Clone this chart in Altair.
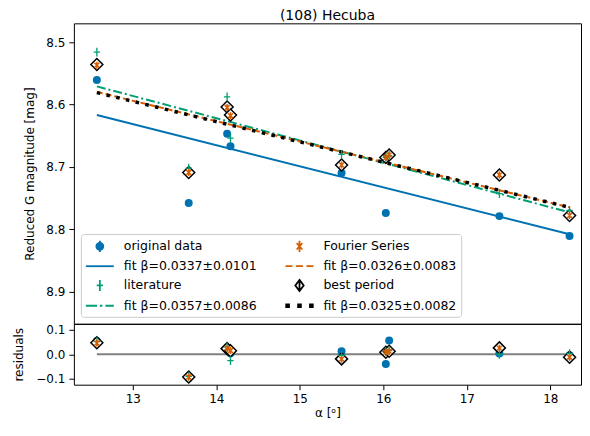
import altair as alt
import pandas as pd

# ---- data ----
alpha = [12.57, 13.67, 14.13, 14.17, 15.50, 16.03, 16.07, 17.39, 18.23]

mag_orig = [8.561, 8.758, 8.647, 8.667, 8.710, 8.774, 8.681, 8.779, 8.811]
mag_lit = [8.516, 8.702, 8.588, 8.654, 8.680, 8.685, 8.682, 8.743, 8.770]
mag_four = [8.537, 8.709, 8.605, 8.618, 8.697, 8.685, 8.681, 8.713, 8.778]
mag_best = [8.536, 8.709, 8.604, 8.617, 8.697, 8.685, 8.681, 8.713, 8.778]

res_orig = [0.054, -0.098, 0.022, 0.004, 0.012, -0.040, 0.056, 0.003, -0.004]
res_lit = [0.052, -0.090, 0.030, -0.026, -0.004, 0.010, 0.015, 0.000, 0.003]
res_four = [0.046, -0.093, 0.024, 0.015, -0.020, 0.008, 0.012, 0.025, -0.012]
res_best = [0.047, -0.093, 0.023, 0.014, -0.019, 0.008, 0.012, 0.026, -0.012]

fit_alpha = [12.57, 18.23]
fit_orig = [8.617, 8.808]
fit_lit = [8.571, 8.773]
fit_four = [8.580, 8.765]
fit_best = [8.581, 8.765]
zero_line = [0.0, 0.0]

# column-major order (two columns of four rows)
legend_labels = [
    "original data", "fit β=0.0337±0.0101",
    "literature", "fit β=0.0357±0.0086",
    "Fourier Series", "fit β=0.0326±0.0083",
    "best period", "fit β=0.0325±0.0082",
]

title_text = "(108) Hecuba"
y_ticks = [8.5, 8.6, 8.7, 8.8, 8.9]
r_ticks = [-0.1, 0.0, 0.1]
x_ticks = [13, 14, 15, 16, 17, 18]

# ---- styles ----
BLUE = "#0072B2"
ORANGE = "#D55E00"
GREEN = "#009E73"
FONT = "DejaVu Sans"

leg_fill = [BLUE, "transparent", "transparent", "transparent",
            "transparent", "transparent", "white", "black"]
leg_stroke = [BLUE, BLUE, GREEN, GREEN, ORANGE, ORANGE, "black", "black"]
leg_shape = [
    "M0.5,0A0.5,0.5,0,1,1,1.5,0A0.5,0.5,0,1,1,0.5,0ZM1,-0.8V0.8",
    "M-1,0H3",
    "M0.55,0H1.45M1,-0.8V0.8",
    "M-1,0H0.6M1,0H1.35M1.8,0H3",
    "M0.6,-0.45L1.4,0.45M0.6,0.45L1.4,-0.45M1,-0.8V0.8",
    "M-1,0H0M0.5,0H1.5M2,0H3",
    "M1,-0.8L1.6,0L1,0.8L0.4,0ZM1,-0.8V0.8",
    "M-0.9,-0.2h0.4v0.4h-0.4ZM0.8,-0.2h0.4v0.4h-0.4ZM2.5,-0.2h0.4v0.4h-0.4Z",
]

n = len(alpha)
pts = pd.DataFrame({
    "alpha": alpha * 4,
    "mag": mag_orig + mag_lit + mag_four + mag_best,
    "res": res_orig + res_lit + res_four + res_best,
    "series": ["orig"] * n + ["lit"] * n + ["four"] * n + ["best"] * n,
})
fits = pd.DataFrame({
    "alpha": fit_alpha * 4,
    "mag": fit_orig + fit_lit + fit_four + fit_best,
    "series": ["orig"] * 2 + ["lit"] * 2 + ["four"] * 2 + ["best"] * 2,
})
zero_df = pd.DataFrame({"alpha": fit_alpha, "res": zero_line})
leg_df = pd.DataFrame({"entry": legend_labels})

PW = 508
MH = 301
RH = 61

xs = alt.Scale(domain=[12.295, 18.367], nice=False, zero=False)
ys = alt.Scale(domain=[8.470, 8.9516], reverse=True, nice=False, zero=False)
rs = alt.Scale(domain=[-0.1245, 0.1245], nice=False, zero=False)

X_main = alt.X("alpha:Q", scale=xs, axis=None)
Y_main = alt.Y("mag:Q", scale=ys, axis=alt.Axis(
    values=y_ticks, format=".1f", title="Reduced G magnitude [mag]", titlePadding=9))
X_res = alt.X("alpha:Q", scale=xs, axis=alt.Axis(
    values=x_ticks, format="d", title="α [ᵒ]", titlePadding=3))
Y_res = alt.Y("res:Q", scale=rs, axis=alt.Axis(
    values=r_ticks, format=".1f", title="residuals", titlePadding=10))


def fit_layer(series, color, width, dash=None):
    kw = dict(color=color, strokeWidth=width)
    if dash is not None:
        kw["strokeDash"] = dash
    return (alt.Chart(fits).transform_filter(alt.datum.series == series)
            .mark_line(**kw).encode(x=X_main, y=Y_main))


def marker_layers(x_enc, y_enc):
    blue = (alt.Chart(pts).transform_filter(alt.datum.series == "orig")
            .mark_circle(size=64, color=BLUE, opacity=1).encode(x=x_enc, y=y_enc))
    diam = (alt.Chart(pts).transform_filter(alt.datum.series == "best")
            .mark_point(shape="diamond", size=144, filled=True, fill="white",
                        stroke="black", strokeWidth=1.5, opacity=1)
            .encode(x=x_enc, y=y_enc))
    lit = (alt.Chart(pts).transform_filter(alt.datum.series == "lit")
           .mark_point(shape="M-0.8,0H0.8M0,-1.1V1.1", size=64, filled=False,
                       stroke=GREEN, strokeWidth=1.3, opacity=1)
           .encode(x=x_enc, y=y_enc))
    four = (alt.Chart(pts).transform_filter(alt.datum.series == "four")
            .mark_point(shape="M-0.7,-0.7L0.7,0.7M-0.7,0.7L0.7,-0.7M0,-1V1", size=49,
                        filled=False, stroke=ORANGE, strokeWidth=1.5, opacity=1)
            .encode(x=x_enc, y=y_enc))
    return [blue, diam, lit, four]


legend_layer = (
    alt.Chart(leg_df).transform_filter("false")
    .mark_point(opacity=1)
    .encode(
        fill=alt.Fill("entry:N", scale=alt.Scale(domain=legend_labels, range=leg_fill),
                      legend=alt.Legend(title=None)),
        stroke=alt.Stroke("entry:N", scale=alt.Scale(domain=legend_labels, range=leg_stroke),
                          legend=alt.Legend(title=None)),
        shape=alt.Shape("entry:N", scale=alt.Scale(domain=legend_labels, range=leg_shape),
                        legend=alt.Legend(title=None)),
    )
)

main = alt.layer(
    fit_layer("orig", BLUE, 2),
    fit_layer("lit", GREEN, 2, [9, 3, 2, 3]),
    fit_layer("four", ORANGE, 2, [6, 3]),
    fit_layer("best", "black", 3.5, [3.5, 6.5]),
    *marker_layers(X_main, Y_main),
    legend_layer,
).properties(
    width=PW, height=MH,
    title=alt.Title(title_text, fontSize=14, fontWeight="normal", offset=0,
                    color="black", font=FONT),
)

zero = alt.Chart(zero_df).mark_line(color="#808080", strokeWidth=2).encode(x=X_res, y=Y_res)
resid = alt.layer(zero, *marker_layers(X_res, Y_res)).properties(width=PW, height=RH)

chart = alt.vconcat(main, resid, spacing=0).properties(
    bounds="flush",
    padding={"left": 4, "top": 0, "right": 0, "bottom": 0},
).configure(font=FONT).configure_view(
    stroke="black", strokeWidth=1
).configure_axis(
    domain=False, grid=False, tickSize=5, tickColor="black", tickWidth=1,
    labelPadding=4, labelFontSize=12, labelColor="black", labelFont=FONT,
    titleFontSize=12, titleFontWeight="normal", titleColor="black", titleFont=FONT,
).configure_legend(
    orient="none", legendX=7, legendY=211, columns=2,
    fillColor="white", strokeColor="#cccccc", cornerRadius=3, padding=4,
    columnPadding=24, rowPadding=2.3, symbolSize=196, symbolStrokeWidth=1.8,
    labelFontSize=12.5, labelOffset=23, labelLimit=400, labelColor="black",
    labelFont=FONT, symbolOpacity=1,
)

chart.save("out.html", embed_options={"renderer": "svg", "actions": False})
